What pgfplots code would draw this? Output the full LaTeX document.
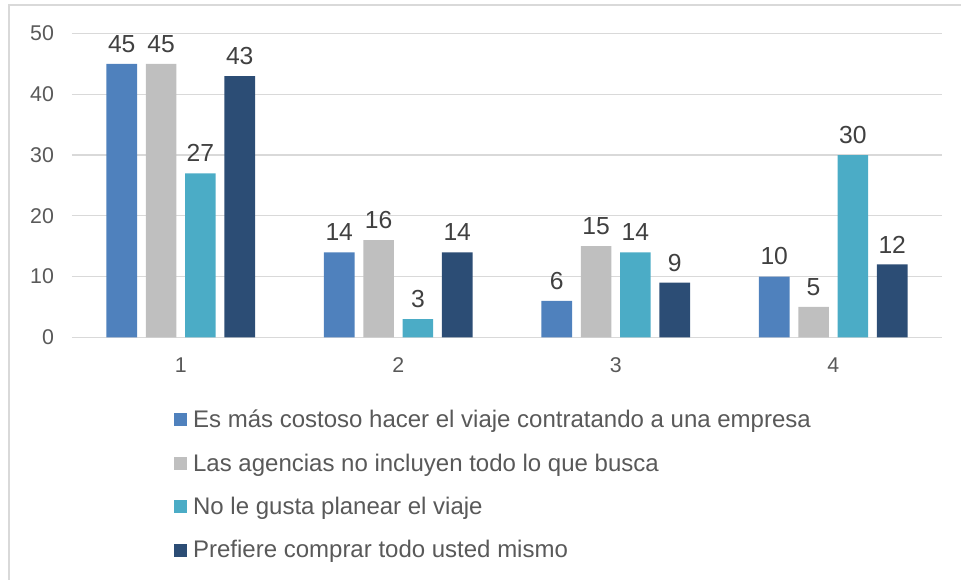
\documentclass[border=0pt]{standalone}
\usepackage{pgfplots}
\pgfplotsset{compat=1.18}
\usepackage{fontspec}
\setmainfont{Liberation Sans}
\definecolor{cBlue}{HTML}{4F81BD}
\definecolor{cGray}{HTML}{BFBFBF}
\definecolor{cTeal}{HTML}{4BACC6}
\definecolor{cNavy}{HTML}{2C4D75}
\definecolor{gridc}{HTML}{D9D9D9}
\definecolor{labc}{HTML}{404040}
\definecolor{tickc}{HTML}{595959}
\begin{document}
\begin{tikzpicture}
\useasboundingbox (0,0) rectangle (720.75pt,435pt);
\draw[color=gridc, line width=1.5pt] (6.75pt,0pt) -- (6.75pt,431.25pt) -- (720.75pt,431.25pt);
\begin{axis}[
  at={(54pt,182pt)}, anchor=south west,
  scale only axis, width=652.5pt, height=227.85pt,
  xmin=0.5, xmax=4.5, ymin=0, ymax=50,
  xtick={1,2,3,4}, ytick={0,10,...,50},
  axis line style={draw=none},
  major tick length=0pt,
  ymajorgrids, grid style={color=gridc, line width=1pt},
  /pgf/number format/assume math mode=true,
  ticklabel style={font=\fontsize{16}{18}\selectfont, color=tickc},
  xticklabel style={yshift=-12pt},
  yticklabel style={xshift=-10pt},
  ybar=6.6pt, bar width=22.9pt,
  nodes near coords,
  every node near coord/.append style={font=\fontsize{18.5}{21}\selectfont, color=labc, yshift=5pt},
  legend style={at={(axis description cs:0.1175,-0.234)}, anchor=north west, draw=none,
    font=\fontsize{18}{20}\selectfont, text=tickc, row sep=16pt, inner sep=0pt,
    nodes={inner sep=1pt}},
  legend cell align=left,
  legend image code/.code={\fill[#1] (0pt,-4.875pt) rectangle (9.75pt,4.875pt); \path (13pt,0pt);},
]
\addplot[fill=cBlue, draw=none] coordinates {(1,45) (2,14) (3,6) (4,10)};
\addlegendentry{Es más costoso hacer el viaje contratando a una empresa}
\addplot[fill=cGray, draw=none] coordinates {(1,45) (2,16) (3,15) (4,5)};
\addlegendentry{Las agencias no incluyen todo lo que busca}
\addplot[fill=cTeal, draw=none] coordinates {(1,27) (2,3) (3,14) (4,30)};
\addlegendentry{No le gusta planear el viaje}
\addplot[fill=cNavy, draw=none] coordinates {(1,43) (2,14) (3,9) (4,12)};
\addlegendentry{Prefiere comprar todo usted mismo}
\end{axis}
\end{tikzpicture}
\end{document}
